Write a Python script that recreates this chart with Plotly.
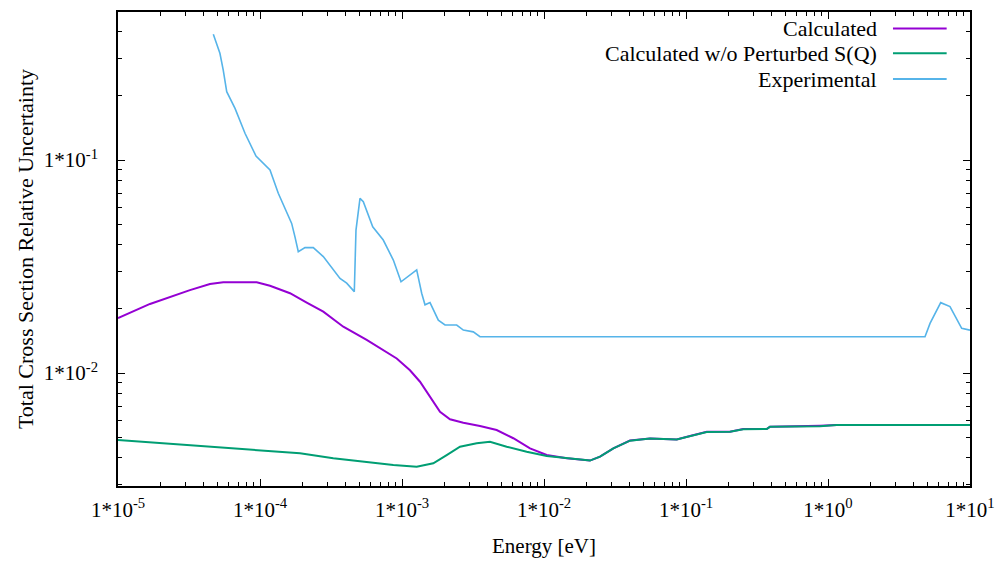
import plotly.graph_objects as go

# ---------------- data ----------------
series_names = ["Calculated", "Calculated w/o Perturbed S(Q)", "Experimental"]
series_colors = ["#9400D3", "#009E73", "#56B4E9"]

calc_E = [1e-5, 1.68e-5, 3.21e-5, 4.44e-5, 5.51e-5, 9.48e-5, 1.176e-4, 1.627e-4,
          2.133e-4, 2.791e-4, 3.86e-4, 5.64e-4, 9.18e-4, 1.138e-3, 1.339e-3,
          1.575e-3, 1.852e-3, 2.178e-3, 2.703e-3, 3.541e-3, 4.64e-3, 6.08e-3,
          7.97e-3, 1.045e-2, 1.445e-2, 2.108e-2, 2.48e-2, 3.08e-2, 4.03e-2,
          5.58e-2, 8.60e-2, 0.1067, 0.140, 0.204, 0.253, 0.370, 0.390, 0.878,
          1.15, 10.0]
calc_U = [0.0181, 0.0211, 0.0245, 0.0262, 0.0267, 0.0267, 0.0257, 0.0237,
          0.0214, 0.0194, 0.0165, 0.0143, 0.0117, 0.0103, 0.0091,
          0.00774, 0.00658, 0.00606, 0.00584, 0.00564, 0.0054, 0.00494,
          0.00443, 0.00412, 0.00398, 0.00388, 0.00405, 0.00443, 0.00482,
          0.00493, 0.00487, 0.00506, 0.0053, 0.0053, 0.00546, 0.00546, 0.0056,
          0.00566, 0.0057, 0.0057]

nop_E = [1e-5, 1.913e-4, 3.28e-4, 5.64e-4, 8.69e-4, 1.269e-3, 1.661e-3,
         2.064e-3, 2.561e-3, 3.357e-3, 4.165e-3, 5.46e-3, 7.55e-3, 1.045e-2,
         1.445e-2, 2.108e-2, 2.48e-2, 3.08e-2, 4.03e-2, 5.58e-2, 8.60e-2,
         0.1067, 0.140, 0.204, 0.253, 0.370, 0.390, 0.878, 1.15, 10.0]
nop_U = [0.00485, 0.0042, 0.00398, 0.00381, 0.0037, 0.00363, 0.00377,
         0.00412, 0.00451, 0.00468, 0.00476, 0.00451, 0.00427, 0.00408,
         0.00398, 0.00388, 0.00405, 0.00443, 0.00481, 0.00492, 0.00487,
         0.00505, 0.00528, 0.0053, 0.00545, 0.00546, 0.00559, 0.00562, 0.0057,
         0.0057]

exp_E = [4.69e-5, 5.22e-5, 5.51e-5, 5.83e-5, 6.67e-5, 7.84e-5, 9.37e-5,
         1.028e-4, 1.176e-4, 1.345e-4, 1.671e-4, 1.763e-4, 1.861e-4, 2.074e-4,
         2.373e-4, 2.791e-4, 3.659e-4, 4.079e-4, 4.614e-4, 4.742e-4, 5.06e-4,
         5.34e-4, 6.22e-4, 7.38e-4, 8.69e-4, 9.84e-4, 1.269e-3, 1.376e-3,
         1.452e-3, 1.575e-3, 1.802e-3, 2.008e-3, 2.428e-3, 2.703e-3, 3.177e-3,
         3.541e-3, 4.82, 5.23, 6.22, 7.23, 8.74, 10.0]
exp_U = [0.390, 0.317, 0.2645, 0.2093, 0.1748, 0.1335, 0.1044,
         0.0982, 0.0898, 0.0698, 0.0504, 0.0436, 0.0371, 0.0388,
         0.0388, 0.0352, 0.0278, 0.0264, 0.0241, 0.0469, 0.0661,
         0.0637, 0.0486, 0.0421, 0.0339, 0.0268, 0.0305, 0.0237,
         0.0209, 0.0214, 0.0177, 0.0168, 0.0168, 0.0159, 0.0156,
         0.0148, 0.0148, 0.0171, 0.0214, 0.0205, 0.0162, 0.0159]

x_tickvals = [1e-5, 1e-4, 1e-3, 1e-2, 1e-1, 1e0, 1e1]
x_ticktext = ["1*10<sup>-5</sup>", "1*10<sup>-4</sup>", "1*10<sup>-3</sup>",
              "1*10<sup>-2</sup>", "1*10<sup>-1</sup>", "1*10<sup>0</sup>",
              "1*10<sup>1</sup>"]
y_tickvals = [1e-2, 1e-1]
y_ticktext = ["1*10<sup>-2</sup>", "1*10<sup>-1</sup>"]

x_title = "Energy [eV]"
y_title = "Total Cross Section Relative Uncertainty"

# ---------------- figure ----------------
FONT = "Liberation Serif"
fig = go.Figure()
for E, U, name, col, w in [(calc_E, calc_U, series_names[0], series_colors[0], 2.0),
                           (nop_E, nop_U, series_names[1], series_colors[1], 2.0),
                           (exp_E, exp_U, series_names[2], series_colors[2], 1.6)]:
    fig.add_trace(go.Scatter(x=E, y=U, mode="lines", name=name,
                             line=dict(color=col, width=w), showlegend=False))

# minor tick positions (2..9 per decade)
x_minor = [m * 10.0 ** d for d in range(-5, 1) for m in range(2, 10)]
y_minor = [m * 10.0 ** d for d in range(-3, 0) for m in range(2, 10)]

axis_common = dict(type="log", showgrid=False, zeroline=False, showline=True,
                   linecolor="black", linewidth=1.5, mirror="allticks",
                   ticks="inside", ticklen=7, tickwidth=1.2, tickcolor="black",
                   automargin=False,
                   tickfont=dict(family=FONT, size=21, color="black"))

fig.update_xaxes(**axis_common, range=[-5, 1], tickmode="array",
                 tickvals=x_tickvals, ticktext=x_ticktext,
                 ticklabelstandoff=4,
                 minor=dict(tickmode="array", tickvals=x_minor, ticks="inside",
                            ticklen=4, tickwidth=1.2, tickcolor="black"),
                 title=dict(text=x_title, standoff=17,
                            font=dict(family=FONT, size=21, color="black")))
fig.update_yaxes(**axis_common, range=[-2.5305, -0.305], tickmode="array",
                 tickvals=y_tickvals, ticktext=y_ticktext,
                 ticklabelstandoff=14,
                 minor=dict(tickmode="array", tickvals=y_minor, ticks="inside",
                            ticklen=4, tickwidth=1.2, tickcolor="black"),
                 title=dict(text=y_title, standoff=4,
                            font=dict(family=FONT, size=22, color="black")))

# gnuplot-style key: right-aligned text followed by a line sample
key_text_x = 0.8897
key_line_x0, key_line_x1 = 0.9096, 0.9726
key_rows_y = [0.9652, 0.9129, 0.8586]
shapes = []
annotations = []
for name, col, ky in zip(series_names, series_colors, key_rows_y):
    annotations.append(dict(x=key_text_x, y=ky, xref="paper", yref="paper",
                            text=name, showarrow=False, xanchor="right",
                            yanchor="middle", xshift=3,
                            font=dict(family=FONT, size=22, color="black")))
    shapes.append(dict(type="line", xref="paper", yref="paper",
                       x0=key_line_x0, x1=key_line_x1, y0=ky, y1=ky,
                       line=dict(color=col, width=2)))

fig.update_layout(width=998, height=562,
                  margin=dict(l=118, r=28, t=12, b=76, autoexpand=False),
                  paper_bgcolor="white", plot_bgcolor="white",
                  shapes=shapes, annotations=annotations,
                  font=dict(family=FONT, color="black"))

fig.write_html("out.html")
